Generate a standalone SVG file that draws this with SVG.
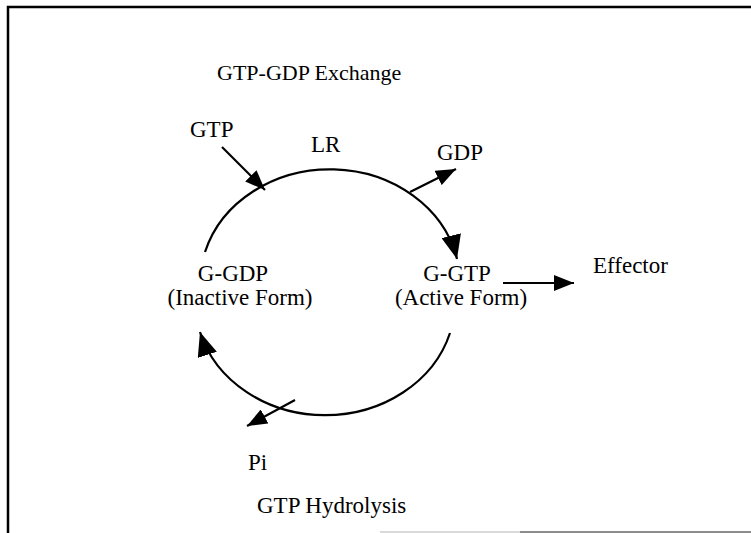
<svg xmlns="http://www.w3.org/2000/svg" width="751" height="533" viewBox="0 0 751 533">
  <style>
    text { font-family: "Liberation Serif", "Times New Roman", serif; font-size: 23px; fill: #000; }
    .title { font-size: 22px; }
    .line { stroke: #000; stroke-width: 2.2; fill: none; }
    .frame { stroke: #000; stroke-width: 2.5; fill: none; }
  </style>
  <defs>
    <marker id="head" markerWidth="22" markerHeight="16" refX="20" refY="8" orient="auto" markerUnits="userSpaceOnUse">
      <path d="M0,0 L20,8 L0,16 Z" fill="#000"/>
    </marker>
    <marker id="headBig" markerWidth="26" markerHeight="20" refX="24" refY="10" orient="auto" markerUnits="userSpaceOnUse">
      <path d="M0,0 L24,10 L0,20 Z" fill="#000"/>
    </marker>
  </defs>
  <rect width="751" height="533" fill="#fff"/>
  <!-- frame -->
  <path class="frame" d="M8,533 L8,7 L751,7"/>
  <line x1="380" y1="532" x2="520" y2="532" stroke="#ccc" stroke-width="1.5"/>
  <line x1="520" y1="532" x2="751" y2="532" stroke="#666" stroke-width="1.5"/>

  <g id="connectors">
    <!-- exchange arc (upper) -->
    <path class="line" d="M205,252 A130,114 0 0 1 457,259" marker-end="url(#headBig)"/>
    <!-- hydrolysis arc (lower) -->
    <path class="line" d="M450,333 A130,114 0 0 1 200,332" marker-end="url(#headBig)"/>
    <!-- GTP in -->
    <line class="line" x1="222" y1="147" x2="265" y2="190" marker-end="url(#head)"/>
    <!-- GDP out -->
    <line class="line" x1="410" y1="192" x2="456" y2="169" marker-end="url(#head)"/>
    <!-- Pi out -->
    <line class="line" x1="295" y1="400" x2="247" y2="426" marker-end="url(#head)"/>
    <!-- to effector -->
    <line class="line" x1="503" y1="283" x2="574" y2="283" marker-end="url(#head)"/>
  </g>

  <g id="title-exchange"><text class="title" x="217" y="80">GTP-GDP Exchange</text></g>
  <g id="gtp"><text x="190" y="137">GTP</text></g>
  <g id="lr"><text x="311" y="152">LR</text></g>
  <g id="gdp"><text x="437" y="160">GDP</text></g>
  <g id="g-gdp">
    <text x="233" y="281" text-anchor="middle">G-GDP</text>
    <text x="240" y="305" text-anchor="middle">(Inactive Form)</text>
  </g>
  <g id="g-gtp">
    <text x="457" y="281" text-anchor="middle">G-GTP</text>
    <text x="461" y="305" text-anchor="middle">(Active Form)</text>
  </g>
  <g id="effector"><text x="593" y="273">Effector</text></g>
  <g id="pi"><text x="248" y="470">Pi</text></g>
  <g id="title-hydrolysis"><text x="257" y="513">GTP Hydrolysis</text></g>
</svg>
